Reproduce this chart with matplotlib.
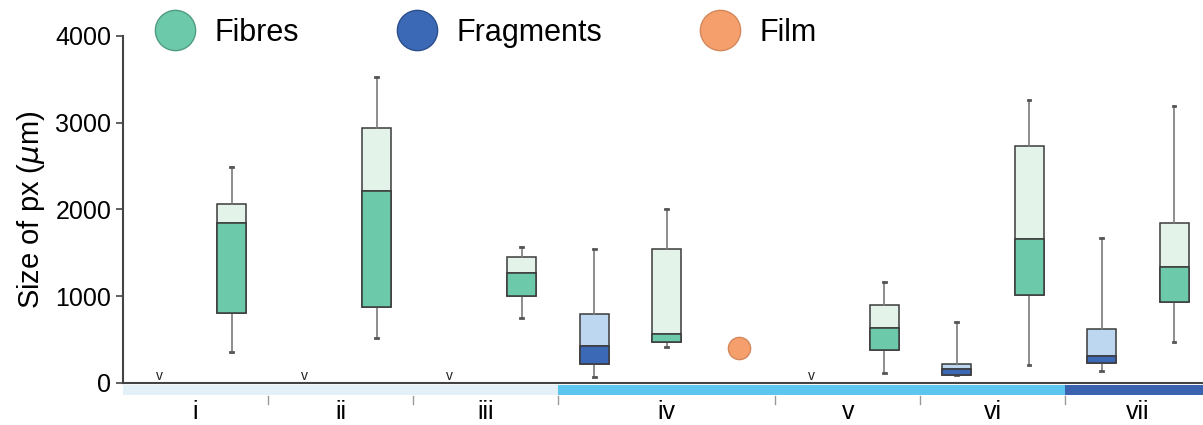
import numpy as np
import matplotlib.pyplot as plt
from matplotlib.lines import Line2D
from matplotlib.patches import Rectangle
import matplotlib.transforms as mtrans

plt.rcParams['font.family'] = ['Liberation Sans', 'DejaVu Sans']

# sites and how many slots each one takes on the x axis
groups = ['i', 'ii', 'iii', 'iv', 'v', 'vi', 'vii']
slots = [2, 2, 2, 3, 2, 2, 2]
band_colors = ['#e3f0f8', '#e3f0f8', '#e3f0f8', '#5cc6ef', '#5cc6ef', '#5cc6ef', '#3a62b0']

# fibres (every site)
fib_whislo = [357, 519, 749, 415, 115, 207, 473]
fib_q1 = [807, 876, 1003, 473, 380, 1014, 934]
fib_med = [1845, 2213, 1268, 565, 634, 1660, 1337]
fib_q3 = [2063, 2939, 1452, 1545, 899, 2732, 1845]
fib_whishi = [2490, 3527, 1568, 2006, 1164, 3262, 3193]

# fragments (only some sites)
frag_groups = ['iv', 'vi', 'vii']
frag_whislo = [69, 88, 138]
frag_q1 = [219, 92, 230]
frag_med = [427, 161, 311]
frag_q3 = [795, 219, 622]
frag_whishi = [1545, 703, 1671]
frag_none = ['i', 'ii', 'iii', 'v']

# film (one particle)
film_groups = ['iv']
film_size = [400]

fib_dark, fib_light = '#6cc9a9', '#e4f3ea'
frag_dark, frag_light = '#3b69b6', '#bdd7f0'
film_col = '#f5a06c'

starts = np.concatenate([[0], np.cumsum(slots)[:-1]])
ends = np.cumsum(slots)
frag_pos = {g: s + 0.5 for g, s in zip(groups, starts)}
fib_pos = {g: s + 1.5 for g, s in zip(groups, starts)}
film_pos = {g: s + 2.5 for g, s in zip(groups, starts)}

fig = plt.figure(figsize=(12.03, 4.25), dpi=100)
ax = fig.add_axes([123/1203, 42/425, 1080/1203, 347/425])


def draw_boxes(ax, pos, lo, q1, med, q3, hi, dark, light):
    stats = [dict(whislo=a, q1=b, med=c, q3=d, whishi=e, fliers=[])
             for a, b, c, d, e in zip(lo, q1, med, q3, hi)]
    ax.bxp(stats, positions=pos, widths=0.4, patch_artist=True,
           showfliers=False, manage_ticks=False,
           boxprops=dict(facecolor=light, edgecolor='#3a3a3a', linewidth=1.1),
           whiskerprops=dict(color='#7a7a7a', linewidth=1.2),
           capprops=dict(color='#555555', linewidth=2),
           capwidths=0.04,
           medianprops=dict(color='#3a3a3a', linewidth=1.1))
    ax.bar(pos, np.array(med) - np.array(q1), bottom=q1, width=0.4,
           color=dark, edgecolor='#3a3a3a', linewidth=1.1, zorder=3)


draw_boxes(ax, [fib_pos[g] for g in groups], fib_whislo, fib_q1, fib_med,
           fib_q3, fib_whishi, fib_dark, fib_light)
draw_boxes(ax, [frag_pos[g] for g in frag_groups], frag_whislo, frag_q1,
           frag_med, frag_q3, frag_whishi, frag_dark, frag_light)

ax.plot([film_pos[g] for g in film_groups], film_size, 'o', ms=16,
        mfc=film_col, mec='#d4875a', mew=1, zorder=4)

for g in frag_none:
    ax.text(frag_pos[g], 0, 'v', ha='center', va='bottom', fontsize=10,
            color='#222222')

ax.set_xlim(0, 14.9)
ax.set_ylim(0, 4000)
ax.set_yticks([0, 1000, 2000, 3000, 4000])
ax.set_xticks([])
ax.tick_params(axis='y', labelsize=18, length=5, width=1.2, color='#444444')
for s in ['top', 'right']:
    ax.spines[s].set_visible(False)
for s in ['left', 'bottom']:
    ax.spines[s].set_color('#444444')
    ax.spines[s].set_linewidth(1.5)
ax.set_ylabel(r'Size of px ($\mu$m)', fontsize=21, labelpad=6)

# coloured band with site names under the axis
trans = mtrans.blended_transform_factory(ax.transData, ax.transAxes)
for s, e, c, g in zip(starts, ends, band_colors, groups):
    ax.add_patch(Rectangle((s, -0.035), e - s, 0.029, transform=trans,
                           facecolor=c, edgecolor='none', clip_on=False))
    ax.text((s + e) / 2, -0.104, g, transform=trans, ha='center',
            va='baseline', fontsize=18)
for e in ends[:-1]:
    ax.plot([e, e], [-0.037, -0.06], transform=trans, color='#999999',
            lw=1, clip_on=False)

handles = [Line2D([], [], ls='none', marker='o', ms=29, mfc=fib_dark, mec='#4f9c82'),
           Line2D([], [], ls='none', marker='o', ms=29, mfc=frag_dark, mec='#2c4f8c'),
           Line2D([], [], ls='none', marker='o', ms=29, mfc=film_col, mec='#d4875a')]
fig.legend(handles, ['Fibres', 'Fragments', 'Film'], loc='center left',
           bbox_to_anchor=(152/1203, 1 - 33/425), ncol=3, frameon=False,
           fontsize=22, handlelength=1.5, handletextpad=0.55,
           columnspacing=3.1, borderpad=0, borderaxespad=0)

fig.savefig('out.png', dpi=100)
